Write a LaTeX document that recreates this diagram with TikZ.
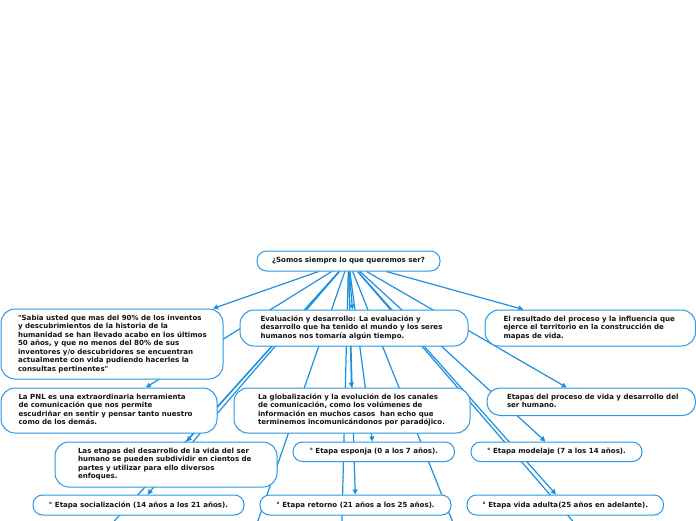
\documentclass[tikz,border=0pt]{standalone}
\usepackage{fontspec}
\newfontfamily\mmfont{DejaVu Sans}
\usetikzlibrary{arrows.meta,backgrounds}
\definecolor{mmblue}{RGB}{40,152,226}
\definecolor{mmline}{RGB}{30,144,222}
\definecolor{mmtext}{RGB}{20,20,20}
\newcommand{\tb}[2]{\makebox[#1pt][l]{\begin{tabular}{@{}l@{}}#2\end{tabular}}}
\begin{document}
\begin{tikzpicture}[x=1pt,y=-1pt,
  box/.style={draw=mmblue, line width=1pt, fill=white, text=mmtext, inner sep=0pt,
    font=\mmfont\bfseries\fontsize{7.05}{8.45}\selectfont},
  big/.style={box, rounded corners=14pt},
  pill/.style={box, rounded corners=9.5pt},
  conn/.style={draw=mmline, line width=1.2pt, -{Triangle[length=5pt,width=5pt]}},
  free/.style={draw=mmline, line width=1.2pt}]
\useasboundingbox (0,0) rectangle (696,520);

\node[pill, minimum width=183pt, minimum height=20pt] (root) at (348.5,261) {¿Somos siempre lo que queremos ser?};

\node[big, minimum width=222pt, minimum height=70pt] (n1) at (112,344) {\tb{188}{"Sabia usted que mas del 90\% de los inventos\\y descubrimientos de la historia de la\\humanidad se han llevado acabo en los últimos\\50 años, y que no menos del 80\% de sus\\inventores y/o descubridores se encuentran\\actualmente con vida pudiendo hacerles la\\consultas pertinentes"}};
\node[big, minimum width=228pt, minimum height=36pt] (n2) at (354,328) {\tb{187}{Evaluación y desarrollo: La evaluación y\\desarrollo que ha tenido el mundo y los seres\\humanos nos tomaría algún tiempo.}};
\node[big, minimum width=210.5pt, minimum height=36pt] (n3) at (590.25,328) {\tb{173.5}{El resultado del proceso y la influencia que\\ejerce el territorio en la construcción de\\mapas de vida.}};
\node[big, minimum width=216pt, minimum height=45pt] (n4) at (109,410.5) {\tb{181}{La PNL es una extraordinaria herramienta\\de comunicación que nos permite\\escudriñar en sentir y pensar tanto nuestro\\como de los demás.}};
\node[big, minimum width=236pt, minimum height=45pt] (n5) at (352,410.5) {\tb{188}{La globalización y la evolución de los canales\\de comunicación, como los volúmenes de\\información en muchos casos\ \ han echo que\\terminemos incomunicándonos por paradójico.}};
\node[big, rounded corners=13pt, minimum width=208.5pt, minimum height=27.5pt] (n6) at (591.25,401.75) {\tb{168.5}{Etapas del proceso de vida y desarrollo del\\ser humano.}};
\node[big, minimum width=222pt, minimum height=45pt] (n7) at (166,464.5) {\tb{176}{Las etapas del desarrollo de la vida del ser\\humano se pueden subdividir en cientos de\\partes y utilizar para ello diversos\\enfoques.}};
\node[pill, minimum width=161.5pt, minimum height=19.5pt] (n8) at (373.75,451.75) {° Etapa esponja (0 a los 7 años).};
\node[pill, minimum width=171pt, minimum height=19.5pt] (n9) at (556.5,451.75) {° Etapa modelaje (7 a los 14 años).};
\node[pill, minimum width=211pt, minimum height=20pt] (n10) at (138.5,505) {° Etapa socialización (14 años a los 21 años).};
\node[pill, minimum width=191pt, minimum height=20pt] (n11) at (355.5,505) {° Etapa retorno (21 años a los 25 años).};
\node[pill, minimum width=196.5pt, minimum height=20pt] (n12) at (565.25,505) {° Etapa vida adulta(25 años en adelante).};

\coordinate (h1) at (45,598);
\coordinate (h2) at (231,598);
\coordinate (h3) at (340,598);
\coordinate (h4) at (483,598);
\coordinate (h5) at (639,598);

\begin{pgfonlayer}{background}
\clip (0,0) rectangle (696,520);
\foreach \t in {n1,n2,n3,n4,n5,n6,n7,n8,n9,n10,n11,n12}
  \draw[conn] (root) -- (\t);
\foreach \h in {h1,h2,h3,h4,h5}
  \draw[free] (root) -- (\h);
\end{pgfonlayer}
\end{tikzpicture}
\end{document}
